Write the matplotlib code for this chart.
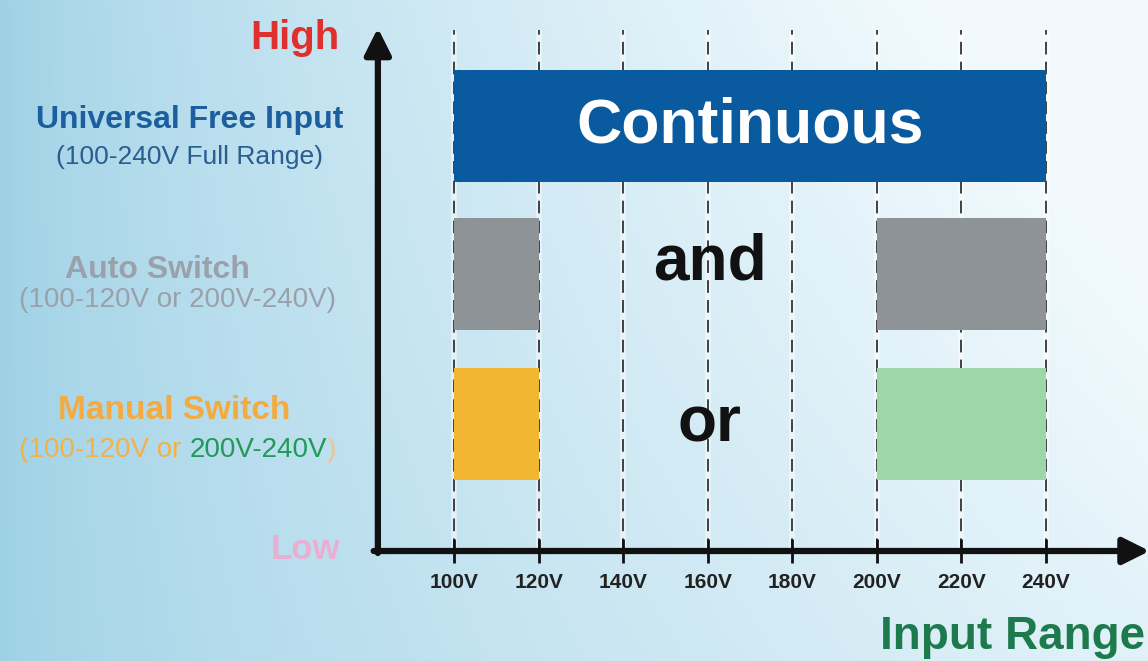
import numpy as np
from matplotlib import pyplot as plt
from matplotlib.offsetbox import TextArea, HPacker, AnnotationBbox

plt.rcParams['font.family'] = ['Liberation Sans', 'DejaVu Sans']

# data
volt_ticks = [100, 120, 140, 160, 180, 200, 220, 240]
tick_labels = ["100V", "120V", "140V", "160V", "180V", "200V", "220V", "240V"]
cont_ranges = [(100, 240)]
auto_ranges = [(100, 120), (200, 240)]
manual_ranges = [(100, 120), (200, 240)]
manual_colors = ["#f3b632", "#9dd6a9"]

fig = plt.figure(figsize=(11.48, 6.61), dpi=100)
ax = fig.add_axes([0, 0, 1, 1])
ax.set_xlim(-7.36, 264.12)
ax.set_ylim(-110, 551)
ax.axis('off')

# background gradient
gx, gy = np.meshgrid(np.linspace(0, 1, 300), np.linspace(0, 1, 200))
w = np.clip(gx ** 0.7 * (0.8 + 0.35 * (1 - gy)), 0, 1)
left = np.array([0.62, 0.82, 0.90])
right = np.array([0.95, 0.98, 0.995])
bg = left[None, None, :] * (1 - w[..., None]) + right[None, None, :] * w[..., None]
ax.imshow(bg, extent=[-7.36, 264.12, -110, 551], aspect='auto', origin='upper', zorder=0)

# dashed guide lines
ax.vlines(volt_ticks, 0, 521, colors='white', lw=4, alpha=0.5, zorder=1)
ax.vlines(volt_ticks, 0, 521, colors='#333333', lw=1.3, linestyles=(0, (7, 4)), zorder=1.5)

# bars
h = 112
for a, b in cont_ranges:
    ax.barh(425, b - a, left=a, height=h, color='#0a5aa0', zorder=2)
for a, b in auto_ranges:
    ax.barh(277.5, b - a, left=a, height=h, color='#8e9398', zorder=2)
for (a, b), c in zip(manual_ranges, manual_colors):
    ax.barh(127.5, b - a, left=a, height=h, color=c, zorder=2)

ax.text(170, 425, "Continuous", color='white', fontsize=45, fontweight='bold',
        ha='center', va='center', zorder=3)
ax.text(160.5, 288, "and", color='#111111', fontsize=46, fontweight='bold',
        ha='center', va='center', zorder=3)
ax.text(160.5, 126, "or", color='#111111', fontsize=46, fontweight='bold',
        ha='center', va='center', zorder=3)

# axes arrows
ax.annotate('', xy=(82, 523), xytext=(82, -2),
            arrowprops=dict(arrowstyle='-|>', lw=4.5, color='#111111',
                            mutation_scale=40, shrinkA=0, shrinkB=0),
            annotation_clip=False, zorder=4)
ax.annotate('', xy=(264.5, 0), xytext=(81, 0),
            arrowprops=dict(arrowstyle='-|>', lw=4.5, color='#111111',
                            mutation_scale=40, shrinkA=0, shrinkB=0),
            annotation_clip=False, zorder=4)
ax.vlines(volt_ticks, -12, 12, colors='#111111', lw=2, zorder=4)
for v, lab in zip(volt_ticks, tick_labels):
    ax.text(v, -31, lab, fontsize=15, fontweight='bold', color='#222222',
            ha='center', va='center')

ax.text(263.5, -98, "Input Range", fontsize=33, fontweight='bold', color='#1d7a4d',
        ha='right', va='baseline')

# left side labels
fig.text(0.296, 0.9425, "High", color='#e0302e', fontsize=29, fontweight='bold',
         ha='right', va='center')
fig.text(0.296, 0.168, "Low", color='#f3a6cf', fontsize=25, fontweight='bold',
         ha='right', va='center', alpha=0.85)
fig.text(0.1655, 0.8185, "Universal Free Input", color='#1c5e9e', fontsize=23,
         fontweight='bold', ha='center', va='center')
fig.text(0.165, 0.7625, "(100-240V Full Range)", color='#2a5d90', fontsize=19,
         ha='center', va='center')
fig.text(0.137, 0.5915, "Auto Switch", color='#9aa1aa', fontsize=23,
         fontweight='bold', ha='center', va='center')
fig.text(0.155, 0.546, "(100-120V or 200V-240V)", color='#9aa1aa', fontsize=20,
         ha='center', va='center')
fig.text(0.152, 0.3797, "Manual Switch", color='#f4aa3c', fontsize=24,
         fontweight='bold', ha='center', va='center')

parts = [("(100-120V or ", '#f4b04a'), ("200V-240V", '#1f9a58'), (")", '#e9c590')]
boxes = [TextArea(t, textprops=dict(color=c, fontsize=20)) for t, c in parts]
pack = HPacker(children=boxes, align='baseline', pad=0, sep=0)
ab = AnnotationBbox(pack, (0.155, 0.319), xycoords='figure fraction', frameon=False,
                    box_alignment=(0.5, 0.5))
ax.add_artist(ab)

fig.savefig("out.png", dpi=100)
